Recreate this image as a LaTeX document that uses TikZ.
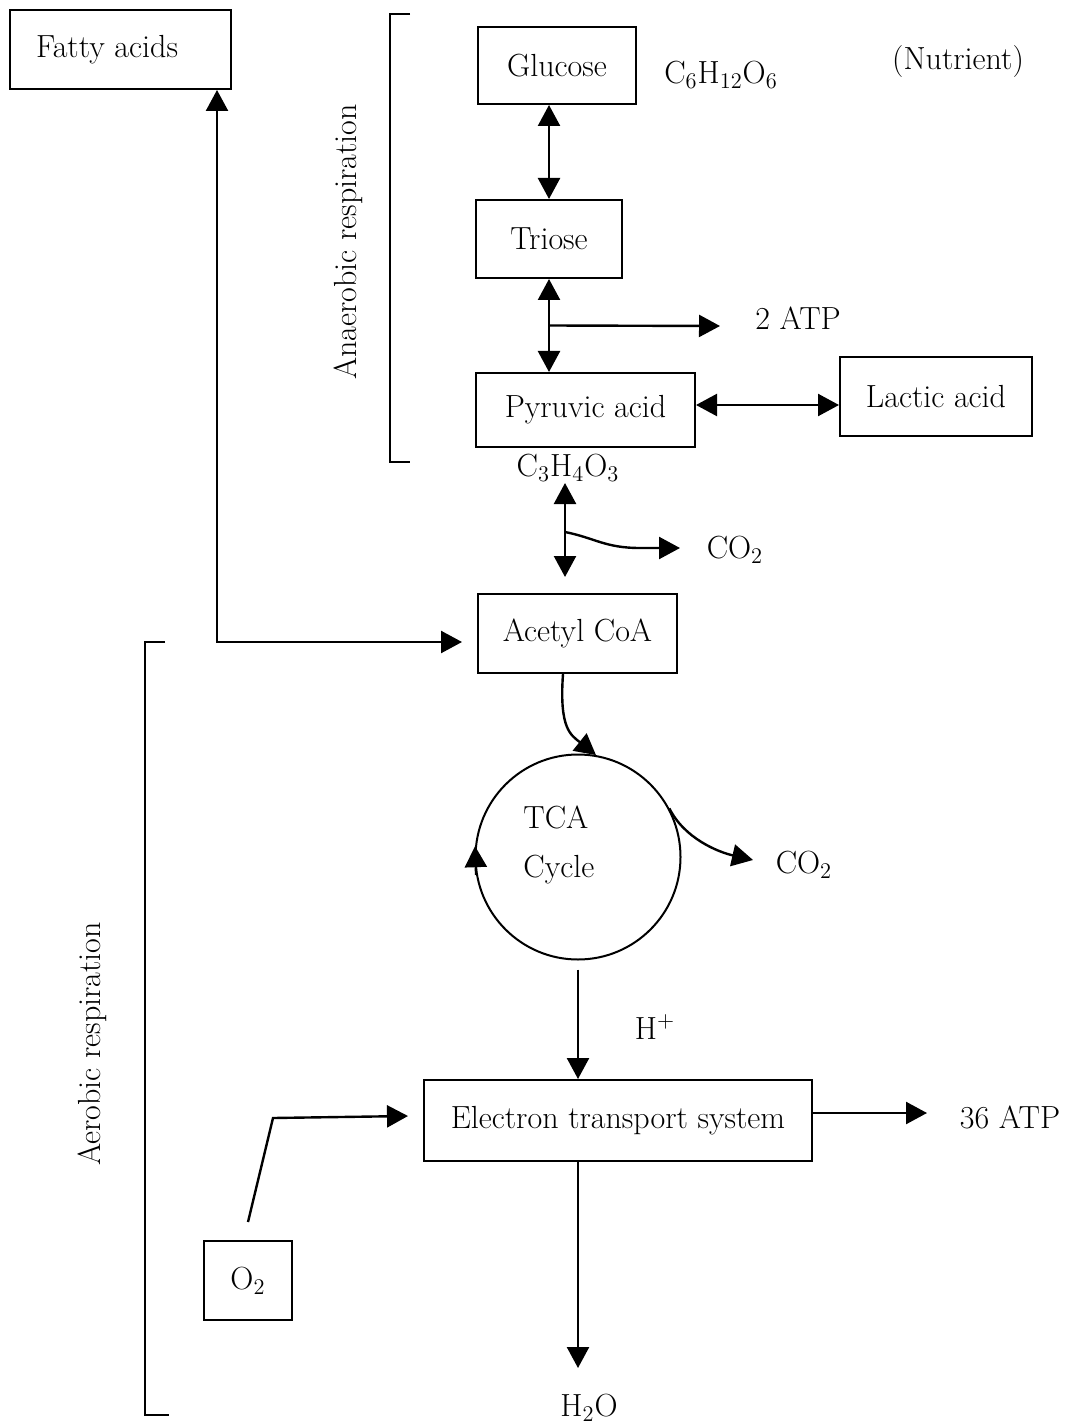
\documentclass[tikz,border=0pt]{standalone}
\usetikzlibrary{arrows.meta,positioning,calc}
\newcommand{\diagfont}{\fontsize{16}{19}\selectfont}
\tikzset{
  wire/.style={line width=1.2pt},
  box/.style={draw, line width=1pt, fill=white, inner sep=2pt, font=\diagfont},
  lbl/.style={inner sep=1pt, font=\diagfont},
  tip/.style={-{Triangle[length=10.5pt,width=11pt]}},
  tips/.style={{Triangle[length=10.5pt,width=11pt]}-{Triangle[length=10.5pt,width=11pt]}},
}

\begin{document}
\begin{tikzpicture}[x=0.5pt,y=-0.5pt]
  \useasboundingbox (0,0) rectangle (1065,1427);
  % boxes
  \node[box, minimum width=110.5pt, minimum height=39.5pt] (fatty) at (120.5,49.5) {\hspace*{-13.5pt}Fatty acids};
  \node[box, minimum width=79pt, minimum height=38.5pt] (glucose) at (557,65.5) {Glucose};
  \node[box, minimum width=73pt, minimum height=39pt] (triose) at (549,239) {Triose};
  \node[box, minimum width=109.5pt, minimum height=37pt] (pyruvic) at (585.5,410) {Pyruvic acid};
  \node[box, minimum width=96pt, minimum height=39.5pt] (lactic) at (936,396.5) {Lactic acid};
  \node[box, minimum width=99.5pt, minimum height=39.5pt] (acetyl) at (577.5,633.5) {Acetyl CoA};
  \node[draw, line width=1pt, circle, minimum size=102.5pt, inner sep=0pt] (tca) at (578,857) {};
  \node[box, minimum width=194pt, minimum height=40.5pt] (ets) at (618,1120.5) {Electron transport system};
  \node[box, minimum width=44pt, minimum height=39.5pt] (o2) at (248,1280.5) {O\textsubscript{2}};
  % labels
  \node[lbl] (glform) at (721,75) {C\textsubscript{6}H\textsubscript{12}O\textsubscript{6}};
  \node[lbl] (nutr) at (958,62) {(Nutrient)};
  \node[lbl] (atp2) at (798,318) {2 ATP};
  \node[lbl] (pyrform) at (568,468) {C\textsubscript{3}H\textsubscript{4}O\textsubscript{3}};
  \node[lbl] (co2a) at (735,550) {CO\textsubscript{2}};
  \node[lbl, anchor=base west] (tca1) at (521,828) {TCA};
  \node[lbl, anchor=base west] (tca2) at (521,877) {Cycle};
  \node[lbl] (co2b) at (804,865) {CO\textsubscript{2}};
  \node[lbl] (hplus) at (655,1027) {H\textsuperscript{+}};
  \node[lbl] (atp36) at (1010,1117) {36 ATP};
  \node[lbl] (water) at (589,1408) {H\textsubscript{2}O};
  \node[lbl, rotate=90] (anaer) at (348,242) {Anaerobic respiration};
  \node[lbl, rotate=90] (aer) at (92,1044) {Aerobic respiration};
  % brackets
  \draw[line width=1pt] (410,14) -- (390,14) -- (390,462) -- (410,462);
  \draw[line width=1pt] (165,642) -- (145,642) -- (145,1415) -- (169,1415);
  % free ends
  \coordinate (atpfork) at ($(triose.south)!0.5!(triose.south |- pyruvic.north)$);
  \coordinate (atp2tip) at (720,326);
  \coordinate (pyrdown) at (565,483);
  \coordinate (co2fork) at (565,532);
  \coordinate (co2atip) at (680,548);
  \coordinate (co2btip) at (753,860);
  \coordinate (atp36tip) at (927,1113);
  \coordinate (watertip) at (578,1368);
  \coordinate (o2kink) at (273,1118);
  \coordinate (o2tip) at (408,1116);
  % glycolysis
  \draw[wire,tips] (triose.north |- glucose.south) -- (triose.north);
  \draw[wire,tips] (triose.south) -- (triose.south |- pyruvic.north);
  \draw[wire,tip] (atpfork) -- (atp2tip);
  \draw[wire,tips] ([yshift=2.5pt]pyruvic.east) -- ([yshift=2.5pt]pyruvic.east -| lactic.west);
  \draw[wire,tips,shorten >=8pt] (pyrdown) -- (pyrdown |- acetyl.north);
  \draw[wire,tip] (co2fork) .. controls +(30,6) and +(-35,0) .. ($(co2atip)+(-40,0)$) -- (co2atip);
  \draw[wire,tips] ([xshift=48.25pt]fatty.south) |- ([xshift=-7.5pt,yshift=-4.25pt]acetyl.west);
  % TCA cycle
  \draw[wire,tip] ([xshift=-7.25pt]acetyl.south) .. controls +(-4,55) and +(-25,-20) .. (tca.80);
  \draw[wire,tip] (tca.190) -- (tca.174);
  \draw[wire,tip] (tca.28) .. controls +(15,30) and +(-35,-8) .. (co2btip);
  \draw[wire,tip,shorten <=4.5pt] (tca.south) -- (tca.south |- ets.north);
  % electron transport
  \draw[wire,tip] (ets.east |- atp36tip) -- (atp36tip);
  \draw[wire,tip] (ets.south -| watertip) -- (watertip);
  \draw[wire,tip] ([yshift=9pt]o2.north) -- (o2kink) -- (o2tip);
\end{tikzpicture}
\end{document}
